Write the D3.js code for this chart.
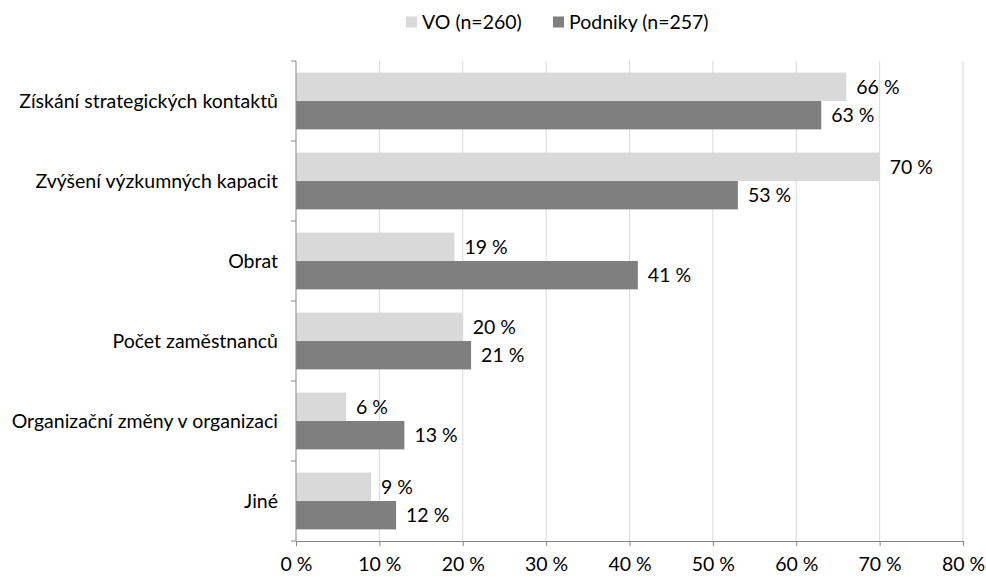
<!DOCTYPE html>
<html>
<head>
<meta charset="utf-8">
<script src="https://cdn.jsdelivr.net/npm/d3@7"></script>
<style>
  body { margin: 0; background: #fff; }
  text { font-family: Lato, "Open Sans", sans-serif; fill: #000; }
</style>
</head>
<body>
<svg width="986" height="577"></svg>
<script>
var categories = ["Získání strategických kontaktů", "Zvýšení výzkumných kapacit", "Obrat",
                  "Počet zaměstnanců", "Organizační změny v organizaci", "Jiné"];
var seriesNames = ["VO (n=260)", "Podniky (n=257)"];
var voValues = [66, 70, 19, 20, 6, 9];
var podnikyValues = [63, 53, 41, 21, 13, 12];
var xTicks = [0, 10, 20, 30, 40, 50, 60, 70, 80];
var colors = ["#d9d9d9", "#7f7f7f"];

var fontSize = "19.5px";
var pct = function(d) { return d + " %"; };

var svg = d3.select("svg"),
    margin = { top: 61, right: 23, bottom: 36, left: 296 },
    width = +svg.attr("width") - margin.left - margin.right,
    height = +svg.attr("height") - margin.top - margin.bottom;

var g = svg.append("g").attr("transform", "translate(" + margin.left + "," + margin.top + ")");

var x = d3.scaleLinear().domain([0, 80]).range([0, width]);
var y = d3.scaleBand().domain(categories).range([0, height]).paddingInner(0.29).paddingOuter(0.145);
var ySub = d3.scaleBand().domain(seriesNames).range([0, y.bandwidth()]);

var data = categories.map(function(c, i) {
  return { name: c, values: [voValues[i], podnikyValues[i]] };
});

// gridlines
g.selectAll(".grid").data(xTicks.slice(1)).enter().append("line")
  .attr("x1", function(d) { return x(d); })
  .attr("x2", function(d) { return x(d); })
  .attr("y1", 0).attr("y2", height)
  .attr("stroke", "#d9d9d9").attr("stroke-width", 1);

// bars
var groups = g.selectAll(".cat").data(data).enter().append("g")
  .attr("transform", function(d) { return "translate(0," + y(d.name) + ")"; });

groups.selectAll("rect").data(function(d) { return d.values; }).enter().append("rect")
  .attr("x", 0)
  .attr("y", function(d, i) { return ySub(seriesNames[i]); })
  .attr("width", function(d) { return x(d); })
  .attr("height", ySub.bandwidth())
  .attr("fill", function(d, i) { return colors[i]; });

groups.selectAll(".lbl").data(function(d) { return d.values; }).enter().append("text")
  .attr("x", function(d) { return x(d) + 10; })
  .attr("y", function(d, i) { return ySub(seriesNames[i]) + ySub.bandwidth() / 2; })
  .attr("dy", "0.35em")
  .style("font-size", fontSize)
  .text(pct);

// x axis
var xAxis = g.append("g").attr("transform", "translate(0," + height + ")")
  .call(d3.axisBottom(x).tickValues(xTicks).tickSize(5).tickPadding(11).tickFormat(pct));
xAxis.select(".domain").attr("stroke", "#868686");
xAxis.selectAll(".tick line").attr("stroke", "#868686");
xAxis.selectAll("text").style("font-size", fontSize).style("font-family", "Lato, sans-serif").attr("fill", "#000");

// y axis: line with ticks at band boundaries
var bounds = d3.range(categories.length + 1).map(function(i) { return i * height / categories.length; });
g.append("line").attr("x1", 0).attr("x2", 0).attr("y1", 0).attr("y2", height).attr("stroke", "#868686");
g.selectAll(".ytick").data(bounds).enter().append("line")
  .attr("x1", -5).attr("x2", 0)
  .attr("y1", function(d) { return d; }).attr("y2", function(d) { return d; })
  .attr("stroke", "#868686");

g.selectAll(".ylabel").data(categories).enter().append("text")
  .attr("x", -18)
  .attr("y", function(d) { return y(d) + y.bandwidth() / 2; })
  .attr("dy", "0.35em")
  .attr("text-anchor", "end")
  .style("font-size", fontSize)
  .text(function(d) { return d; });

// legend
var legendX = [406, 553];
var legend = svg.selectAll(".legend").data(seriesNames).enter().append("g")
  .attr("transform", function(d, i) { return "translate(" + legendX[i] + ",22)"; });
legend.append("rect").attr("x", 0).attr("y", -5.5).attr("width", 11).attr("height", 11)
  .attr("fill", function(d, i) { return colors[i]; });
legend.append("text").attr("x", 16).attr("dy", "0.35em")
  .style("font-size", fontSize)
  .text(function(d) { return d; });
</script>
</body>
</html>
